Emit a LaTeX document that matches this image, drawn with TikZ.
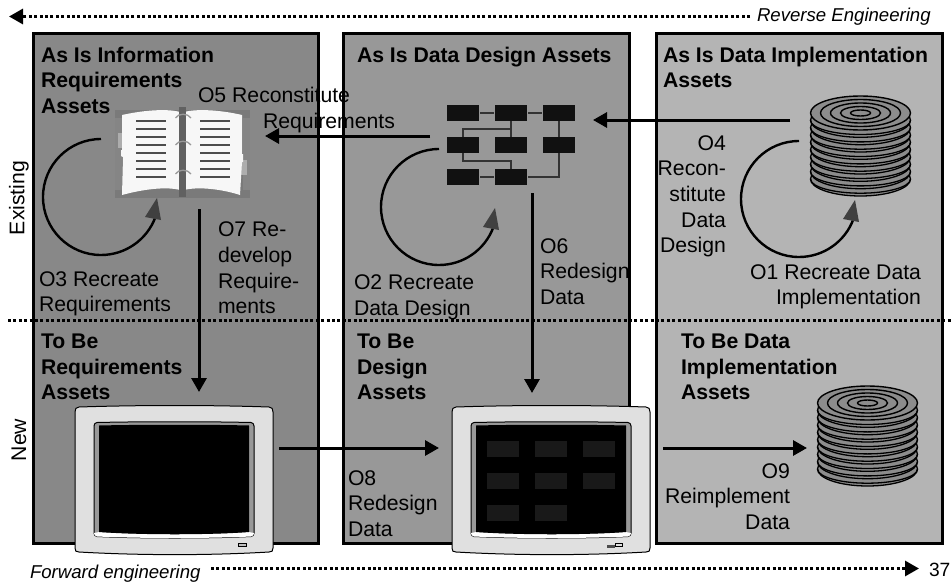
\documentclass[tikz,border=0pt]{standalone}
\usepackage{fontspec}
\setmainfont{Liberation Sans}
\usetikzlibrary{arrows.meta}
\definecolor{panelA}{HTML}{888888}
\definecolor{panelB}{HTML}{989898}
\definecolor{panelC}{HTML}{B4B4B4}
\definecolor{gridbox}{HTML}{111111}
\definecolor{gridline}{HTML}{333333}
\definecolor{bookgrey}{HTML}{7A7A7A}
\definecolor{loophead}{HTML}{404040}
\tikzset{
  panel/.style={draw=black,line width=3pt},
  dotline/.style={line width=3pt,dash pattern=on 3pt off 2.4pt},
  flow/.style={line width=3pt,-{Triangle[length=14pt,width=15pt]}},
  dotflow/.style={dotline,-{Triangle[length=14pt,width=15pt]}},
  looparc/.style={line width=2.4pt},
  txt/.style={inner sep=0pt,outer sep=0pt,font=\fontsize{21.2}{25.6}\selectfont,text=black},
  head/.style={txt,font=\fontsize{21.2}{25.6}\selectfont\bfseries,align=left,text=black},
  lft/.style={txt,align=left},
  rgt/.style={txt,align=right},
  ital/.style={inner sep=0pt,outer sep=0pt,font=\fontsize{18.6}{24}\selectfont\itshape},
}
\newcommand{\diskstack}[2]{%
  \begin{scope}[shift={(#1,#2)}]
    \foreach \yy in {66,58.7,51.3,44,36.7,29.3,22,14.7,7.3}{
      \draw[fill=black!45,line width=1.3pt] (0,\yy) ellipse [x radius=50,y radius=17];
      \draw[line width=1.3pt] (-50,\yy) arc[start angle=180,end angle=0,x radius=50,y radius=14.2];
    }
    \draw[fill=black!45,line width=1.4pt] (0,0) ellipse [x radius=50,y radius=17];
    \draw[line width=1.4pt] (0,0) ellipse [x radius=40,y radius=13.5];
    \draw[line width=1.4pt] (0,0) ellipse [x radius=30,y radius=10];
    \draw[line width=1.4pt] (0,0) ellipse [x radius=20,y radius=6.5];
    \draw[line width=1.4pt] (0,0) ellipse [x radius=10,y radius=3];
  \end{scope}}
\newcommand{\crt}[1]{%
  \begin{scope}[shift={(#1,0)}]
    \draw[fill=black!12,line width=1pt] (79,407) .. controls (140,405) and (210,405) .. (269,407)
      .. controls (272,407) and (273,409) .. (273,412) -- (273,548)
      .. controls (273,551) and (272,552) .. (269,552)
      .. controls (210,555.5) and (140,555.5) .. (79,552)
      .. controls (76,552) and (75,551) .. (75,548) -- (75,412)
      .. controls (75,409) and (76,407) .. (79,407) -- cycle;
    \draw[fill=black!40,line width=1pt] (97,422.5) .. controls (140,421.5) and (210,421.5) .. (251,422.5)
      .. controls (253,423) and (254,424) .. (254,426) -- (254,533)
      .. controls (254,535) and (253,536) .. (251,536.5)
      .. controls (210,538.5) and (140,538.5) .. (97,536.5)
      .. controls (95,536) and (94,535) .. (94,533) -- (94,426)
      .. controls (94,424) and (95,423) .. (97,422.5) -- cycle;
    \fill[white] (94,533) -- (99,532) .. controls (140,535) and (210,535) .. (249,532) -- (254,533)
      .. controls (254,535) and (253,536) .. (251,536.5)
      .. controls (210,538.5) and (140,538.5) .. (97,536.5)
      .. controls (95,536) and (94,535) .. (94,533) -- cycle;
    \fill[black] (99,425.5) .. controls (140,424.5) and (210,424.5) .. (249,425.5)
      -- (249,532) .. controls (210,535) and (140,535) .. (99,532) -- cycle;
  \end{scope}}
\newcommand{\loopback}[2]{%
  \begin{scope}[shift={(#1,#2)}]
    \draw[looparc] (101,139) arc[start angle=270,end angle=20,radius=58];
    \fill[loophead] (157,198) -- (161,220) -- (145,217) -- cycle;
  \end{scope}}
\begin{document}
\begin{tikzpicture}[x=1pt,y=1pt,yscale=-1]
\useasboundingbox[fill=white] (0,0) rectangle (952,586);
% panels
\fill[panelA] (33,34) rectangle (318,543);
\fill[panelB] (343,34) rectangle (629,543);
\fill[panelC] (656,34) rectangle (942,543);
\draw[panel] (33,34) rectangle (318,543);
\draw[panel] (343,34) rectangle (629,543);
\draw[panel] (656,34) rectangle (942,543);
% named ends
\coordinate (gridL) at (430,136);
\coordinate (bookR) at (265,136);
\coordinate (diskL) at (790,120);
\coordinate (gridR) at (593,120);
\coordinate (bookB) at (199,209);
\coordinate (monAT) at (199,392);
\coordinate (gridB) at (532,193);
\coordinate (monBT) at (532,393);
\coordinate (monAR) at (279,448);
\coordinate (monBL) at (439,448);
\coordinate (monBR) at (663,448);
\coordinate (diskNL) at (807,448);
\coordinate (revS) at (750,16.5);
\coordinate (revE) at (9,16.5);
\coordinate (fwdS) at (211,568.5);
\coordinate (fwdE) at (919,568.5);
\coordinate (midL) at (8,320.5);
\coordinate (midR) at (952,320.5);
% book
\fill[bookgrey] (115,110) rectangle (250,198);
\fill[black!48] (115,118) rectangle (122,190);
\fill[black!48] (243,118) rectangle (250,190);
\fill[black!32] (118,133) rectangle (124,148);
\fill[black!32] (241,160) rectangle (247,175);
\fill[black!3] (122,115) .. controls (140,111) and (165,108) .. (180,112) -- (180,190)
   .. controls (165,186) and (140,190) .. (122,195) -- (123,157) -- (121,156) -- (121,150) -- (122,150) -- cycle;
\fill[black!3] (184,112) .. controls (200,108) and (225,111) .. (242,115) -- (242,154) -- (243,154) -- (243,162) -- (242,162)
   -- (240,195) .. controls (225,190) and (200,186) .. (184,190) -- cycle;
\fill[black!62] (179,107) rectangle (186,197);
\foreach \ly in {121,129,...,177}{
  \draw[black!70,line width=2pt] (136,\ly) -- (166,\ly);
  \draw[black!70,line width=2pt] (200,\ly) -- (230,\ly);
}
\foreach \ry in {118,145,174}{
  \draw[black!40,line width=1.3pt] (175.5,\ry) .. controls (178,\ry-5) and (188,\ry-5) .. (191,\ry);
}
% entity grid
\foreach \gx/\gy in {447/105,495/105,543/105,447/137,495/137,543/137,447/169,495/169}{
  \fill[gridbox] (\gx,\gy) rectangle ++(32,16);
}
\draw[gridline,line width=1.7pt] (480,113) -- (494,113);
\draw[gridline,line width=1.7pt] (528,113) -- (542,113);
\draw[gridline,line width=1.7pt] (480,177) -- (494,177);
\draw[gridline,line width=1.7pt] (511,121) -- (511,137);
\draw[gridline,line width=1.7pt] (463,137) -- (463,129) -- (511,129);
\draw[gridline,line width=1.7pt] (463,153) -- (463,161) -- (511,161) -- (511,169);
\draw[gridline,line width=1.7pt] (559,121) -- (559,137);
\draw[gridline,line width=1.7pt] (559,153) -- (559,177) -- (528,177);
% disks
\diskstack{860.5}{113}
\diskstack{867.5}{403}
% monitors
\crt{0}
\crt{377}
\draw[fill=black!25,line width=0.7pt] (238.5,543.5) rectangle (246,546.5);
\foreach \gx/\gy in {487/441,535/441,583/441,487/473,535/473,583/473,487/505,535/505}{
  \fill[black!90] (\gx,\gy) rectangle ++(32,16);
}
\fill[black!70] (607,544.5) rectangle (615,547.5);
\draw[fill=black!12,line width=0.6pt] (615,543.5) rectangle (622,546.5);
% loop arrows
\loopback{0}{0}
\loopback{338}{10}
\loopback{698}{2}
% dotted lines
\draw[dotflow] (revS) -- (revE);
\draw[dotflow] (fwdS) -- (fwdE);
\draw[dotline,line width=2.6pt] (midL) -- (midR);
% arrows
\draw[flow] (gridL) -- (bookR);
\draw[flow] (diskL) -- (gridR);
\draw[flow] (bookB) -- (monAT);
\draw[flow] (gridB) -- (monBT);
\draw[flow] (monAR) -- (monBL);
\draw[flow] (monBR) -- (diskNL);
% text
\node[head,anchor=north west] (t1) at (41,47) {As Is Information\\Requirements\\Assets};
\node[head,anchor=north west] (t2) at (357,47) {As Is Data Design Assets};
\node[head,anchor=north west] (t3) at (663,47) {As Is Data Implementation\\Assets};
\node[head,anchor=north west] (t4) at (41,334) {To Be\\Requirements\\Assets};
\node[head,anchor=north west] (t5) at (357,334) {To Be\\Design\\Assets};
\node[head,anchor=north west] (t6) at (681,334) {To Be Data\\Implementation\\Assets};
\node[lft,anchor=north west] (o5) at (198,87.5) {O5 Reconstitute\\\hspace*{65pt}Requirements};
\node[lft,anchor=north west] (o3) at (39,271.5) {O3 Recreate\\Requirements};
\node[lft,anchor=north west] (o7) at (218,222) {O7 Re-\\develop\\Require-\\ments};
\node[lft,anchor=north west] (o2) at (354,275) {O2 Recreate\\Data Design};
\node[lft,anchor=north west] (o6) at (540,238.5) {O6\\Redesign\\Data};
\node[rgt,anchor=north east] (o4) at (726,135.5) {O4\\Recon-\\stitute\\Data\\Design};
\node[rgt,anchor=north east] (o1) at (921,264.5) {O1 Recreate Data\\Implementation};
\node[lft,anchor=north west] (o8) at (348,470.5) {O8\\Redesign\\Data};
\node[rgt,anchor=north east] (o9) at (790,463.5) {O9\\Reimplement\\Data};
\node[txt,rotate=90] (ex) at (19,198) {Existing};
\node[txt,rotate=90] (nw) at (19,440) {New};
\node[ital,anchor=base west] (rev) at (757,22) {Reverse Engineering};
\node[ital,anchor=base west] (fwd) at (30,578) {Forward engineering};
\node[txt,font=\fontsize{19.2}{24}\selectfont,anchor=base west] (pg) at (929,576) {37};
\end{tikzpicture}
\end{document}
